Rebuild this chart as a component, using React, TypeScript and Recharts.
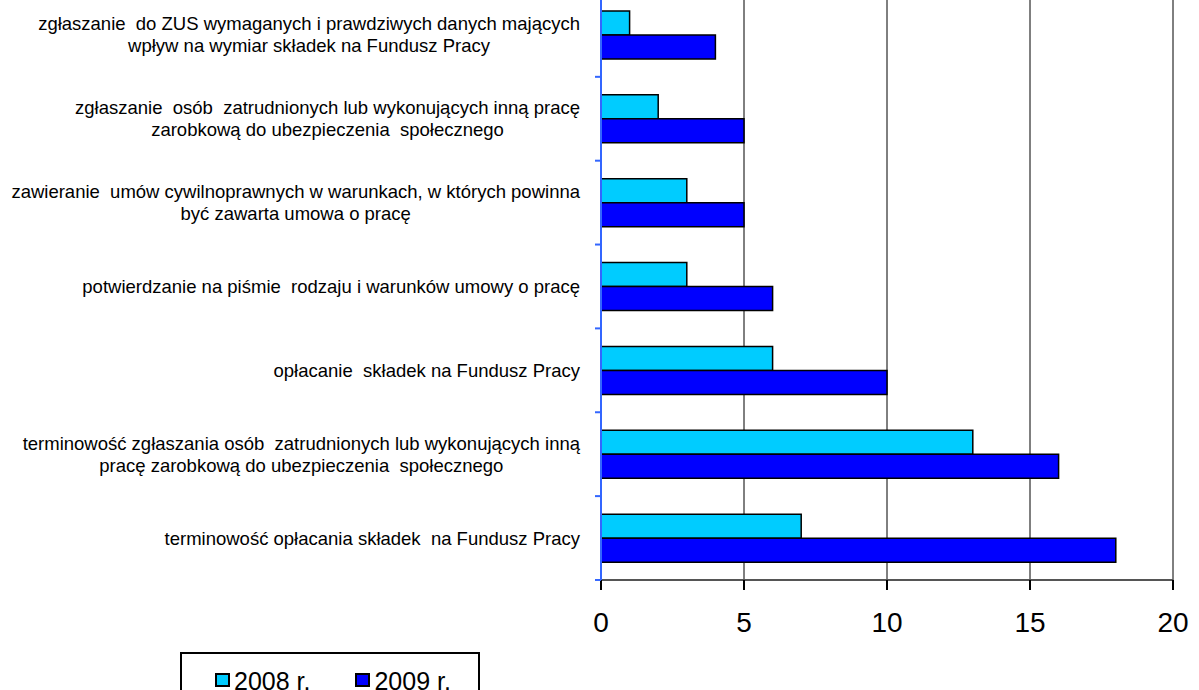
import React from "react";
import {
  BarChart,
  Bar,
  XAxis,
  YAxis,
  CartesianGrid,
  Legend,
} from "recharts";

const categories = [
  "zgłaszanie  do ZUS wymaganych i prawdziwych danych mających\nwpływ na wymiar składek na Fundusz Pracy",
  "zgłaszanie  osób  zatrudnionych lub wykonujących inną pracę\nzarobkową do ubezpieczenia  społecznego",
  "zawieranie  umów cywilnoprawnych w warunkach, w których powinna\nbyć zawarta umowa o pracę",
  "potwierdzanie na piśmie  rodzaju i warunków umowy o pracę",
  "opłacanie  składek na Fundusz Pracy",
  "terminowość zgłaszania osób  zatrudnionych lub wykonujących inną\npracę zarobkową do ubezpieczenia  społecznego",
  "terminowość opłacania składek  na Fundusz Pracy",
];
const values2008 = [1, 2, 3, 3, 6, 13, 7];
const values2009 = [4, 5, 5, 6, 10, 16, 18];
const xTicks = [0, 5, 10, 15, 20];
const seriesNames = ["2008 r.", "2009 r."];

const data = categories.map((name, i) => ({
  name,
  y2008: values2008[i],
  y2009: values2009[i],
}));

const FONT = "'Liberation Sans', Arial, sans-serif";
const LABEL_SIZE = 18.5;
const BAND = 83.8;

let ctx: CanvasRenderingContext2D | null = null;
const measure = (s: string) => {
  if (!ctx) {
    ctx = document.createElement("canvas").getContext("2d");
  }
  if (!ctx) return s.length * 9;
  ctx.font = `${LABEL_SIZE}px 'Liberation Sans', Arial`;
  return ctx.measureText(s).width;
};

// eslint-disable-next-line @typescript-eslint/no-explicit-any
const CategoryTick = (props: any) => {
  const { x, y, payload } = props;
  const lines = String(payload.value).split("\n");
  const widest = Math.max(...lines.map(measure));
  const right = x - 13;
  const cx = right - widest / 2;
  const lh = 22;
  const y0 = y - ((lines.length - 1) * lh) / 2;
  const axisX = x + 8;
  return (
    <g>
      <text
        textAnchor="middle"
        fontFamily={FONT}
        fontSize={LABEL_SIZE}
        fill="#000"
        style={{ whiteSpace: "pre" }}
      >
        {lines.map((l, i) => (
          <tspan key={i} x={cx} y={y0 + i * lh} dy="0.35em">
            {l}
          </tspan>
        ))}
      </text>
      <line
        x1={axisX - 6}
        x2={axisX}
        y1={y + BAND / 2}
        y2={y + BAND / 2}
        stroke="#3366FF"
        strokeWidth={2}
      />
    </g>
  );
};

// eslint-disable-next-line @typescript-eslint/no-explicit-any
const LegendBox = (props: any) => {
  const items = props.payload || [];
  return (
    <div
      style={{
        width: 300,
        height: 60,
        border: "2px solid #000",
        background: "#fff",
        display: "flex",
        alignItems: "flex-start",
        paddingLeft: 33,
        paddingTop: 15,
        boxSizing: "border-box",
        fontFamily: FONT,
        fontSize: 25,
        lineHeight: "25px",
        color: "#000",
      }}
    >
      {/* eslint-disable-next-line @typescript-eslint/no-explicit-any */}
      {items.map((it: any, i: number) => (
        <div
          key={i}
          style={{
            display: "flex",
            alignItems: "flex-start",
            marginRight: 45,
          }}
        >
          <span
            style={{
              display: "inline-block",
              width: 11,
              height: 10,
              marginTop: 4,
              background: it.color,
              border: "2px solid #000",
              marginRight: 4,
            }}
          />
          <span style={{ whiteSpace: "nowrap" }}>{it.value}</span>
        </div>
      ))}
    </div>
  );
};

const App = () => {
  return (
    <div style={{ position: "absolute", left: 0, top: -7 }}>
      <BarChart
        width={1199}
        height={697}
        data={data}
        layout="vertical"
        margin={{ top: 0, right: 26, bottom: 60, left: 0 }}
        barCategoryGap={18}
        barGap={0}
      >
        <CartesianGrid horizontal={false} stroke="#000" strokeWidth={1} />
        <XAxis
          type="number"
          domain={[0, 20]}
          ticks={xTicks}
          interval={0}
          height={50}
          tickSize={10}
          tickMargin={22}
          axisLine={{ stroke: "#555", strokeWidth: 2 }}
          tickLine={{ stroke: "#000", strokeWidth: 2 }}
          tick={{ fill: "#000", fontSize: 28, fontFamily: FONT }}
        />
        <YAxis
          type="category"
          dataKey="name"
          width={601}
          interval={0}
          tickSize={6}
          tickMargin={2}
          tickLine={false}
          axisLine={{ stroke: "#3366FF", strokeWidth: 2 }}
          tick={<CategoryTick />}
        />
        <Legend
          layout="horizontal"
          verticalAlign="middle"
          align="center"
          wrapperStyle={{ left: 180, top: 659, width: 300 }}
          content={<LegendBox />}
        />
        <Bar
          dataKey="y2008"
          name={seriesNames[0]}
          fill="#00CCFF"
          stroke="#000"
          strokeWidth={1.5}
          isAnimationActive={false}
        />
        <Bar
          dataKey="y2009"
          name={seriesNames[1]}
          fill="#0000FF"
          stroke="#000"
          strokeWidth={1.5}
          isAnimationActive={false}
        />
      </BarChart>
    </div>
  );
};

export default App;
